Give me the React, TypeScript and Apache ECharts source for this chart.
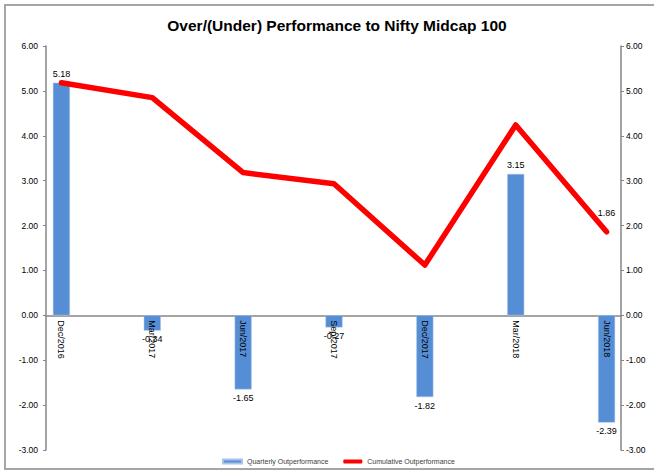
import React, { useEffect, useRef } from "react";
import * as echarts from "echarts";

const categories = ["Dec/2016", "Mar/2017", "Jun/2017", "Sep/2017", "Dec/2017", "Mar/2018", "Jun/2018"];
const quarterly = [5.18, -0.34, -1.65, -0.27, -1.82, 3.15, -2.39];
const cumulative = [5.18, 4.85, 3.18, 2.93, 1.12, 4.24, 1.86];
const yTicks = { min: -3, max: 6, interval: 1 };
const titleText = "Over/(Under) Performance to Nifty Midcap 100";
const seriesNames = ["Quarterly Outperformance", "Cumulative Outperformance"];

const FONT = "Liberation Sans";

export default function App() {
  const ref = useRef<HTMLDivElement>(null);
  useEffect(() => {
    if (!ref.current) return;
    const chart = echarts.init(ref.current, null, { renderer: "svg" });
    const gridTop = 46;
    const gridBottom = 23;
    const plotH = 473 - gridTop - gridBottom;
    const zeroFromBottom = (plotH * (0 - yTicks.min)) / (yTicks.max - yTicks.min);
    const axisCommon = {
      type: "value",
      min: yTicks.min,
      max: yTicks.max,
      interval: yTicks.interval,
      splitLine: { show: false },
    };
    chart.setOption({
      animation: false,
      backgroundColor: "#ffffff",
      title: {
        text: titleText,
        left: 332,
        textAlign: "center",
        top: 12,
        textStyle: { fontFamily: FONT, fontSize: 15.5, fontWeight: "bold", color: "#000" },
      },
      graphic: [
        {
          type: "rect",
          shape: { x: 5, y: 5, width: 700, height: 464 },
          style: { fill: "none", stroke: "#a6a6a6", lineWidth: 2 },
          silent: true,
        },
      ],
      legend: {
        bottom: 8,
        left: 222,
        padding: 0,
        itemWidth: 19,
        itemHeight: 4,
        itemGap: 15,
        textStyle: { fontFamily: FONT, fontSize: 7, color: "#404040" },
        data: [
          { name: seriesNames[0], icon: "rect" },
          { name: seriesNames[1], icon: "roundRect", itemStyle: { color: "#ff0000" } },
        ],
      },
      grid: [
        { left: 16, right: 2, top: gridTop, bottom: gridBottom, outerBoundsMode: "none", containLabel: false },
        { left: 46, right: 33, top: gridTop, bottom: gridBottom, outerBoundsMode: "none", containLabel: false },
      ],
      xAxis: [
        {
          type: "category",
          gridIndex: 0,
          data: categories,
          offset: -zeroFromBottom,
          z: 10,
          axisLine: { show: false, onZero: false },
          axisTick: { show: false },
          axisLabel: {
            rotate: -90,
            margin: 5,
            fontFamily: FONT,
            fontSize: 9,
            color: "#000",
          },
        },
        {
          type: "value",
          gridIndex: 1,
          min: 0,
          max: 1,
          offset: -zeroFromBottom,
          axisLine: { show: true, onZero: false, lineStyle: { color: "#868686", width: 1.5 } },
          axisTick: { show: false },
          axisLabel: { show: false },
          splitLine: { show: false },
        },
      ],
      yAxis: [
        {
          ...axisCommon,
          gridIndex: 0,
          axisLine: { show: false },
          axisTick: { show: false },
          axisLabel: { show: false },
        },
        {
          ...axisCommon,
          gridIndex: 1,
          position: "left",
          axisLine: { show: true, lineStyle: { color: "#868686", width: 1.5 } },
          axisTick: { show: true, length: 3, lineStyle: { color: "#868686" } },
          axisLabel: {
            margin: 8,
            fontFamily: FONT,
            fontSize: 8.5,
            color: "#000",
            formatter: (v: number) => v.toFixed(2),
          },
        },
        {
          ...axisCommon,
          gridIndex: 1,
          position: "right",
          axisLine: { show: true, lineStyle: { color: "#868686", width: 1.5 } },
          axisTick: { show: true, length: 3, lineStyle: { color: "#868686" } },
          axisLabel: {
            margin: 5,
            fontFamily: FONT,
            fontSize: 8.5,
            color: "#000",
            formatter: (v: number) => v.toFixed(2),
          },
        },
      ],
      series: [
        {
          name: seriesNames[0],
          type: "bar",
          xAxisIndex: 0,
          yAxisIndex: 0,
          barWidth: 17,
          itemStyle: { color: "#558ED5", borderColor: "#a9c4ea", borderWidth: 0.5 },
          data: quarterly.map((v) => ({
            value: v,
            label: {
              show: true,
              position: v >= 0 ? "top" : "bottom",
              distance: 4,
              fontFamily: FONT,
              fontSize: 9,
              color: "#000",
              formatter: (p: any) => Number(p.value).toFixed(2),
            },
          })),
        },
        {
          name: seriesNames[1],
          type: "line",
          xAxisIndex: 0,
          yAxisIndex: 0,
          symbol: "circle",
          symbolSize: 1,
          itemStyle: { color: "#ff0000" },
          lineStyle: { color: "#ff0000", width: 5.5, cap: "round", join: "round" },
          data: cumulative.map((v, i) => ({
            value: v,
            label: {
              show: i === cumulative.length - 1,
              position: "top",
              distance: 14,
              fontFamily: FONT,
              fontSize: 9,
              color: "#000",
              formatter: (p: any) => Number(p.value).toFixed(2),
            },
          })),
        },
      ],
    });
    return () => chart.dispose();
  }, []);
  return (
    <div
      ref={ref}
      style={{ position: "fixed", left: 0, top: 0, width: 654, height: 473 }}
    />
  );
}
